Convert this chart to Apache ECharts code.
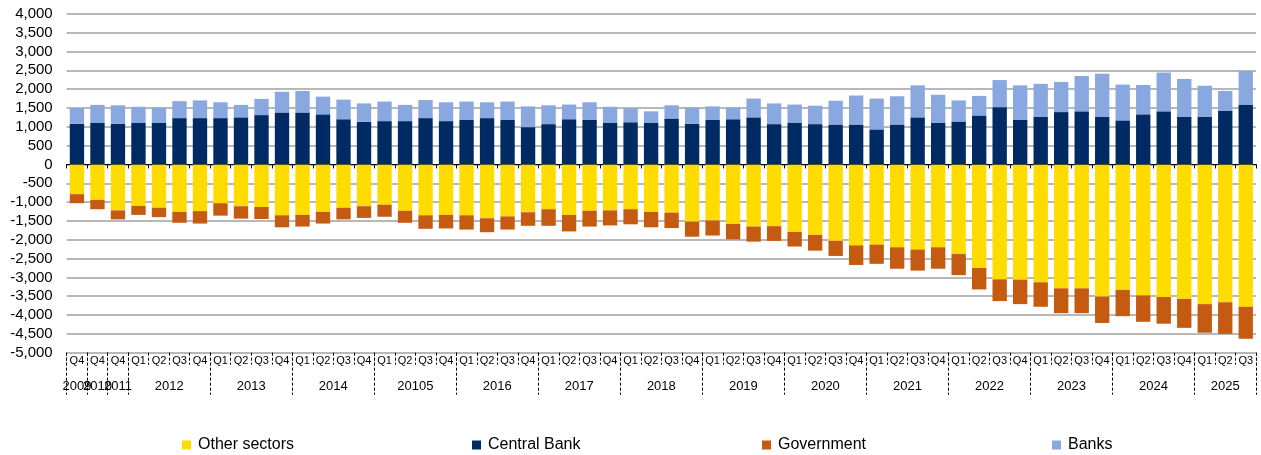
<!DOCTYPE html>
<html>
<head>
<meta charset="utf-8">
<script src="https://cdn.jsdelivr.net/npm/echarts@6.0.0/dist/echarts.min.js"></script>
<style>
html,body{margin:0;padding:0;background:#fff;}
#chart{width:1261px;height:455px;}
</style>
</head>
<body>
<div id="chart"></div>
<script>
// Quarter tick labels (one per bar)
const quarters = ['Q4','Q4','Q4',
  'Q1','Q2','Q3','Q4', 'Q1','Q2','Q3','Q4', 'Q1','Q2','Q3','Q4', 'Q1','Q2','Q3','Q4',
  'Q1','Q2','Q3','Q4', 'Q1','Q2','Q3','Q4', 'Q1','Q2','Q3','Q4', 'Q1','Q2','Q3','Q4',
  'Q1','Q2','Q3','Q4', 'Q1','Q2','Q3','Q4', 'Q1','Q2','Q3','Q4', 'Q1','Q2','Q3','Q4',
  'Q1','Q2','Q3','Q4', 'Q1','Q2','Q3'];
// Year group labels, first bar index of each group, and group size
const yearLabels = ['2009','2010','2011','2012','2013','2014','20105','2016','2017','2018','2019','2020','2021','2022','2023','2024','2025'];
const yearStart  = [0,1,2,3,7,11,15,19,23,27,31,35,39,43,47,51,55];
const yearSize   = [1,1,1,4,4,4,4,4,4,4,4,4,4,4,4,4,3];

const otherSectors = [-790,-940,-1220,-1100,-1150,-1260,-1240,-1030,-1110,-1130,-1350,-1340,-1260,-1150,-1110,-1070,-1230,-1350,-1340,-1350,-1430,-1380,-1270,-1190,-1340,-1230,-1220,-1190,-1260,-1280,-1520,-1490,-1580,-1650,-1640,-1790,-1870,-2030,-2150,-2130,-2200,-2260,-2200,-2380,-2750,-3050,-3060,-3130,-3290,-3290,-3510,-3330,-3480,-3520,-3570,-3710,-3660,-3780];
const centralBank = [1080,1100,1080,1100,1100,1230,1230,1230,1250,1310,1380,1380,1330,1200,1130,1150,1150,1230,1150,1190,1230,1190,990,1070,1200,1190,1100,1120,1100,1220,1080,1180,1200,1250,1070,1100,1070,1060,1060,930,1060,1250,1110,1140,1300,1520,1190,1270,1390,1410,1260,1170,1330,1410,1260,1270,1430,1590];
const government = [-240,-250,-240,-240,-250,-290,-330,-330,-330,-320,-320,-310,-310,-310,-310,-320,-320,-360,-360,-380,-370,-350,-360,-440,-440,-420,-400,-400,-410,-410,-400,-400,-410,-400,-390,-390,-420,-400,-520,-510,-570,-560,-570,-560,-570,-580,-650,-650,-660,-660,-700,-700,-700,-710,-770,-760,-840,-850];
const banks = [420,480,490,430,410,450,470,420,330,430,550,570,470,520,490,520,430,480,500,480,420,480,550,500,390,460,430,370,310,350,430,360,310,500,550,490,490,630,770,820,750,850,740,560,520,720,910,870,800,940,1150,950,780,1030,1010,820,520,890];

const yTicks = {min:-5000, max:4000, interval:500};

const FONT = "'Liberation Sans', Arial, sans-serif";
const cats = quarters.map((q,i)=> i + '_' + q);
const nCat = quarters.length;
const yearBoundary = new Set(yearStart);
const yearCenter = {};
yearStart.forEach((s,i)=>{ yearCenter[(s + yearSize[i]/2).toFixed(1)] = yearLabels[i]; });

const colors = {other:'#FFDC00', cb:'#002A64', gov:'#C55A11', banks:'#8AA8E0'};

const chart = echarts.init(document.getElementById('chart'), null, {renderer:'canvas'});
const legendBase = {orient:'horizontal', top:432, itemWidth:9, itemHeight:9, itemGap:0,
  icon:'rect', textStyle:{fontFamily:FONT, fontSize:16, color:'#000', padding:[0,0,0,2]}};
chart.setOption({
  animation:false,
  backgroundColor:'#fff',
  grid:{left:66.7, right:5, top:13.8, bottom:102.3, containLabel:false, outerBoundsMode:'none'},
  legend:[
    Object.assign({}, legendBase, {left:177, data:['Other sectors']}),
    Object.assign({}, legendBase, {left:467, data:['Central Bank']}),
    Object.assign({}, legendBase, {left:757, data:['Government']}),
    Object.assign({}, legendBase, {left:1047, data:['Banks']})
  ],
  xAxis:[
    { // data axis, line at zero
      type:'category', data:cats, position:'bottom', boundaryGap:true,
      axisLine:{show:true, onZero:true, lineStyle:{color:'#000', width:1}},
      axisTick:{show:true, interval:0, length:4, lineStyle:{color:'#000', width:1}},
      axisLabel:{show:false}, splitLine:{show:false}
    },
    { // quarter labels at bottom
      type:'category', data:cats, position:'bottom', boundaryGap:true,
      axisLine:{show:false, onZero:false},
      axisTick:{show:true, interval:0, length:12, lineStyle:{color:'#000', width:1, type:[3,2]}},
      axisLabel:{show:true, interval:0, margin:3, fontFamily:FONT, fontSize:11, color:'#000',
        formatter:(v)=> v.split('_')[1]},
      splitLine:{show:false}
    },
    { // year boundary ticks
      type:'category', data:cats, position:'bottom', boundaryGap:true,
      axisLine:{show:false, onZero:false},
      axisTick:{show:true, length:42, lineStyle:{color:'#000', width:1, type:[3,2]},
        interval:(idx)=> yearBoundary.has(idx)},
      axisLabel:{show:false}, splitLine:{show:false}
    },
    { // year labels
      type:'value', min:0, max:nCat, interval:0.5, position:'bottom',
      axisLine:{show:false, onZero:false}, axisTick:{show:false}, splitLine:{show:false},
      axisLabel:{show:true, margin:27, fontFamily:FONT, fontSize:13, color:'#000',
        showMinLabel:true, showMaxLabel:true, hideOverlap:false,
        formatter:(v)=> yearCenter[Number(v).toFixed(1)] || ''}
    }
  ],
  yAxis:{
    type:'value', min:yTicks.min, max:yTicks.max, interval:yTicks.interval,
    axisLine:{show:false}, axisTick:{show:false},
    splitLine:{show:true, lineStyle:{color:'#a0a0a0', width:1.5}},
    axisLabel:{margin:14, fontFamily:FONT, fontSize:15, color:'#000',
      formatter:(v)=> v.toLocaleString('en-US')}
  },
  series:[
    {name:'Other sectors', type:'bar', stack:'s', data:otherSectors, itemStyle:{color:colors.other}, barCategoryGap:'30%'},
    {name:'Central Bank', type:'bar', stack:'s', data:centralBank, itemStyle:{color:colors.cb}, barCategoryGap:'30%'},
    {name:'Government', type:'bar', stack:'s', data:government, itemStyle:{color:colors.gov}, barCategoryGap:'30%'},
    {name:'Banks', type:'bar', stack:'s', data:banks, itemStyle:{color:colors.banks}, barCategoryGap:'30%'}
  ]
});
</script>
</body>
</html>
